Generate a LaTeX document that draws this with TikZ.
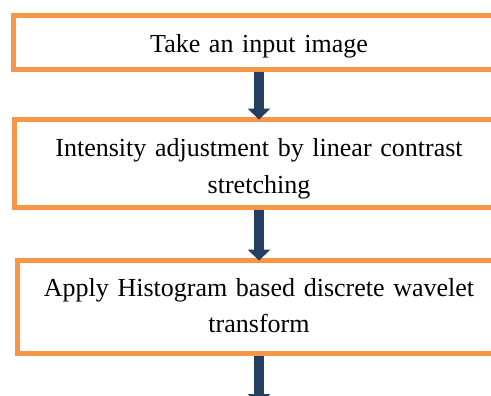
\documentclass[tikz,border=0pt]{standalone}
\usepackage{fontspec}
\setmainfont{Liberation Serif}
\usetikzlibrary{arrows.meta}
\definecolor{boxorange}{RGB}{247,150,70}
\definecolor{arrowblue}{RGB}{36,63,96}
\tikzset{
  stepbox/.style={draw=boxorange, line width=5pt, rectangle, inner sep=0pt,
    text width=470pt, align=center,
    font=\fontsize{26}{36.5}\selectfont},
  flowarrow/.style={draw=arrowblue, line width=10pt,
    -{Triangle[width=22pt,length=11pt]}, shorten >=-2.3pt}
}
\begin{document}
\begin{tikzpicture}[x=1pt,y=-1pt]
\useasboundingbox (0,0) rectangle (491,396);
\clip (0,0) rectangle (491,396);
\node[stepbox, minimum width=491pt, minimum height=53.5pt,
  text height=22pt, text depth=1.1pt] (b1) at (259,42.55) {Take an input image};
\node[stepbox, minimum width=489pt, minimum height=87.9pt,
  text height=20pt, text depth=33.5pt] (b2) at (259,163.75)
  {Intensity adjustment by linear contrast\\stretching};
\node[stepbox, minimum width=482.4pt, minimum height=92.4pt,
  text height=20pt, text depth=42pt] (b3) at (259,307)
  {Apply Histogram based discrete wavelet\\transform};
\coordinate (next) at (259,405);
\draw[flowarrow] (b1.south) -- (b2.north);
\draw[flowarrow] (b2.south) -- (b3.north);
\draw[flowarrow, shorten >=0pt] (b3.south) -- (next);
\end{tikzpicture}
\end{document}
